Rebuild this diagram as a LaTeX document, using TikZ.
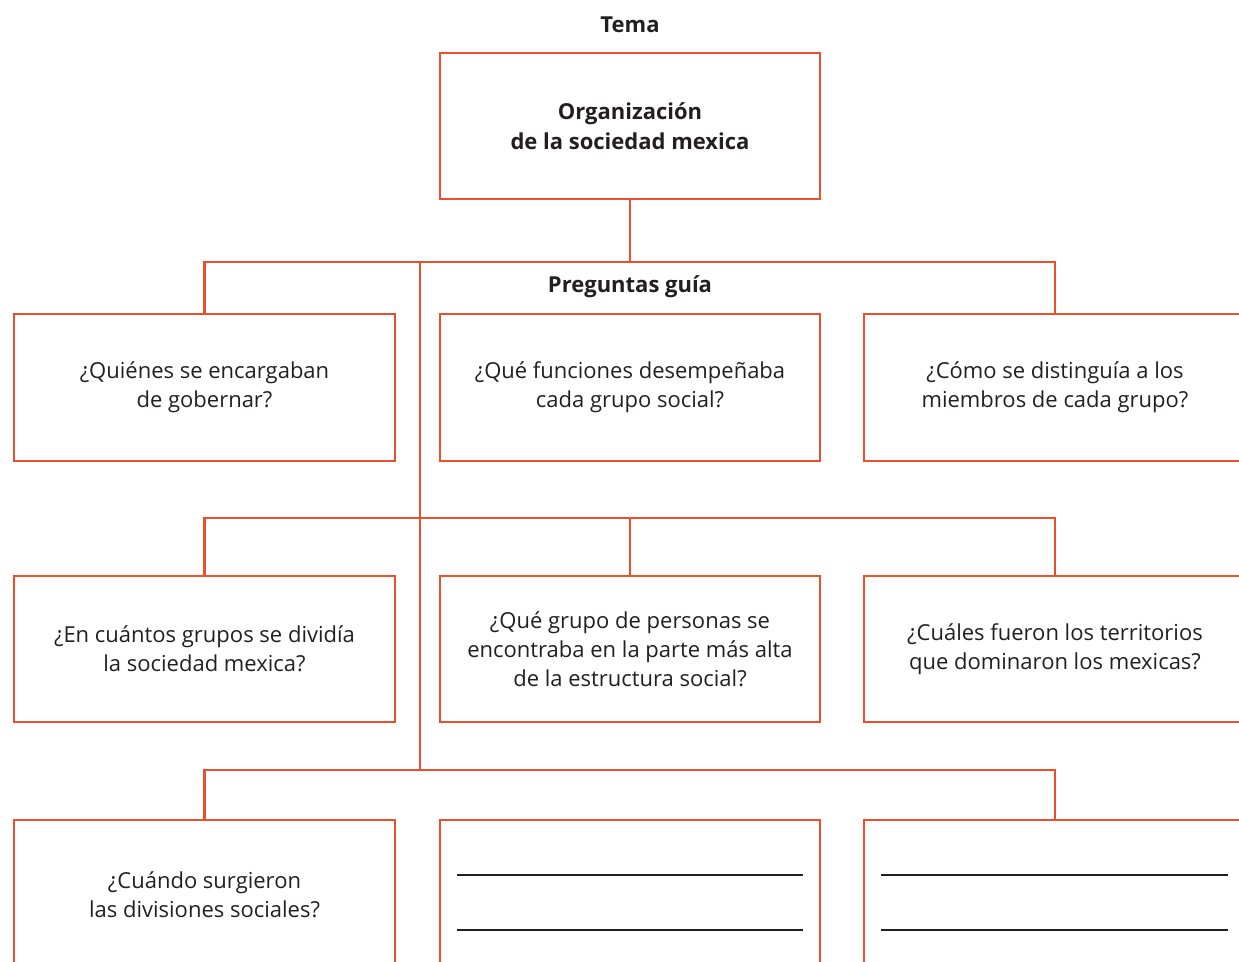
\documentclass[tikz,border=0pt]{standalone}
\usepackage{fontspec}
\setmainfont{Open Sans}
\definecolor{lineor}{HTML}{E9502B}
\definecolor{txt}{HTML}{231F20}
\tikzset{
  qbox/.style={draw=lineor, line width=2.8pt, rectangle, align=center, text=txt,
    font=\fontsize{22}{29}\selectfont, inner sep=0pt},
  link/.style={draw=lineor, line width=2.8pt},
  title/.style={text=txt, font=\fontsize{22}{29}\selectfont\bfseries, align=center, inner sep=0pt},
  blank/.style={draw=txt, line width=1.3pt}
}
\begin{document}
\begin{tikzpicture}[x=1pt, y=-1pt]
\path[use as bounding box] (0,0) rectangle (1239,961);
\clip (0,0) rectangle (1239,961);

\node[title] (tema) at (630,25) {Tema};
\node[qbox, font=\fontsize{22}{30}\selectfont\bfseries, minimum width=380pt, minimum height=146pt] (top) at (630,126) {Organización\\de la sociedad mexica};
\node[title] (preg) at (630,287) {Preguntas guía};

% row 1
\node[qbox, minimum width=381pt, minimum height=147pt] (q1) at (204.5,387.5) {¿Quiénes se encargaban\\de gobernar?};
\node[qbox, minimum width=380pt, minimum height=147pt] (q2) at (630,387.5) {¿Qué funciones desempeñaba\\cada grupo social?};
\node[qbox, minimum width=382pt, minimum height=147pt] (q3) at (1055,387.5) {¿Cómo se distinguía a los\\miembros de cada grupo?};

% row 2
\node[qbox, minimum width=381pt, minimum height=146pt] (q4) at (204.5,649) {¿En cuántos grupos se dividía\\la sociedad mexica?};
\node[qbox, minimum width=380pt, minimum height=146pt] (q5) at (630,649) {¿Qué grupo de personas se\\encontraba en la parte más alta\\de la estructura social?};
\node[qbox, minimum width=382pt, minimum height=146pt] (q6) at (1055,649) {¿Cuáles fueron los territorios\\que dominaron los mexicas?};

% row 3
\node[qbox, minimum width=381pt, minimum height=150pt] (q7) at (204.5,895) {¿Cuándo surgieron\\las divisiones sociales?};
\node[qbox, minimum width=380pt, minimum height=150pt] (q8) at (630,895) {};
\node[qbox, minimum width=382pt, minimum height=150pt] (q9) at (1055,895) {};

% blank writing lines
\coordinate (b1a) at (457,875); \coordinate (b1b) at (803,875);
\coordinate (b2a) at (457,930); \coordinate (b2b) at (803,930);
\coordinate (b3a) at (881,875); \coordinate (b3b) at (1228,875);
\coordinate (b4a) at (881,930); \coordinate (b4b) at (1228,930);
\draw[blank] (b1a) -- (b1b);
\draw[blank] (b2a) -- (b2b);
\draw[blank] (b3a) -- (b3b);
\draw[blank] (b4a) -- (b4b);

% connectors
\coordinate (j1) at (630,262);
\coordinate (s1) at (420,262);
\coordinate (s2) at (420,518);
\coordinate (s3) at (420,770);
\draw[link] (top.south) -- (j1);
\draw[link] (q1.north) |- (j1) -| (q3.north);
\draw[link] (s1) -- (s3);
\draw[link] (q4.north) |- (s2) -| (q6.north);
\draw[link] (q5.north) -- (q5.north |- s2);
\draw[link] (q7.north) |- (s3) -| (q9.north);
\end{tikzpicture}
\end{document}
